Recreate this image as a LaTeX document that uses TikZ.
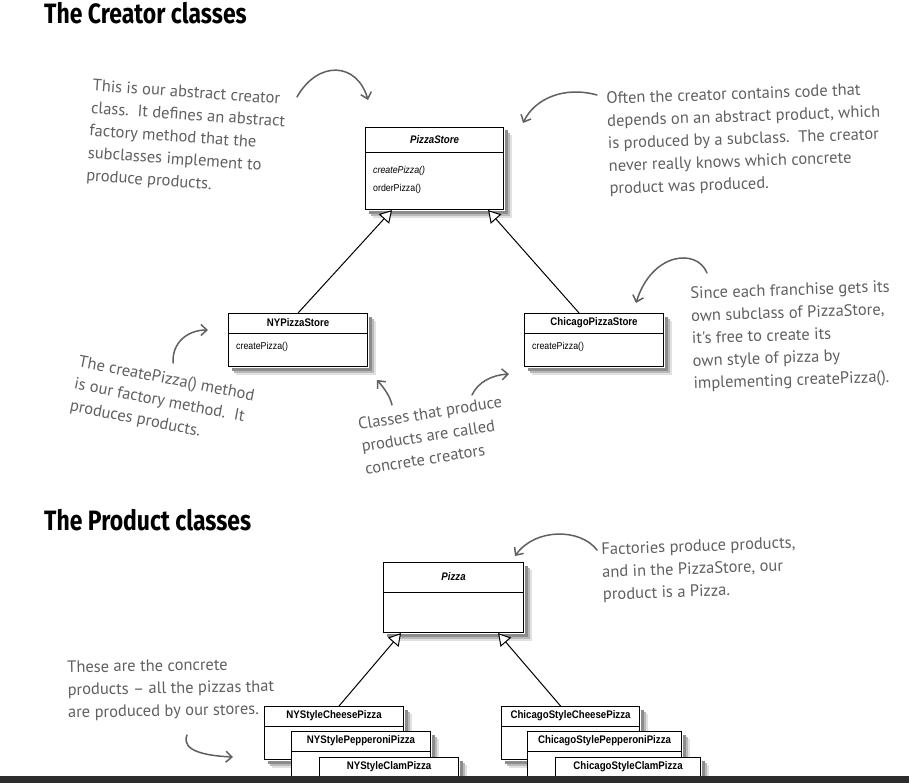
\documentclass[tikz,border=0pt]{standalone}
\usepackage{fontspec}
\setmainfont{Liberation Sans}
\newfontfamily\umlfont[FakeStretch=0.88]{Liberation Sans}
\newfontfamily\handfont{PT Sans}
\newfontfamily\headfont[FakeStretch=0.82]{Fira Sans}
\usetikzlibrary{arrows.meta}
\definecolor{notegray}{RGB}{96,96,96}
\definecolor{bargray}{RGB}{44,44,44}
\definecolor{shadowA}{RGB}{225,225,225}
\definecolor{shadowB}{RGB}{185,185,185}
\definecolor{shadowC}{RGB}{140,140,140}
\newcommand\shadowL[3]{%
  \fill[#2] ([xshift=0.6pt,yshift={-1*#3}]#1.north east) rectangle ([xshift=#3,yshift={-1*#3}]#1.south east);
  \fill[#2] ([xshift=#3,yshift=-0.6pt]#1.south west) rectangle ([xshift=#3,yshift={-1*#3}]#1.south east);
}
\newcommand\mkclass[7]{%
  \node[umlbox, minimum width=#4pt, minimum height=#5pt] (#1) at (#2,#3) {};
  \shadowL{#1}{shadowA}{8pt}
  \shadowL{#1}{shadowB}{6pt}
  \shadowL{#1}{shadowC}{3.5pt}
  \draw[headline] ([yshift={-1*#6}]#1.north west) -- ([yshift={-1*#6}]#1.north east);
  \node[umltitle] (#1-t) at ([yshift={-0.5*#6}]#1.north) {#7};
}
\begin{document}
\begin{tikzpicture}[x=1pt,y=-1pt,
  umlbox/.style={draw=black, line width=1.1pt, fill=white, anchor=north west, inner sep=0pt},
  headline/.style={draw=black, line width=0.8pt},
  umltitle/.style={font=\umlfont\fontsize{11}{13}\selectfont\bfseries, inner sep=0pt},
  method/.style={font=\umlfont\fontsize{10}{12}\selectfont, inner sep=0pt, anchor=west},
  note/.style={font=\handfont\fontsize{16.5}{22.5}\selectfont, text=notegray, align=left, anchor=north west, inner sep=0pt},
  title/.style={font=\headfont\fontsize{28}{30}\selectfont\bfseries, anchor=north west, inner sep=0pt},
  inherit/.style={draw=black, line width=1pt, -{Triangle[open, length=12pt, width=14pt, fill=white]}},
  pointer/.style={draw=notegray, line width=1.5pt, line cap=round, -{Straight Barb[length=6pt, width=11pt]}}
]
\useasboundingbox (0,0) rectangle (909,783);
\fill[white] (0,0) rectangle (909,783);

% titles
\node[title] (t1) at (44,2) {The Creator classes};
\node[title] (t2) at (44,509) {The Product classes};

% ---------- creator classes ----------
\mkclass{ps}{365}{127}{138}{82}{25pt}{\itshape PizzaStore}
\node[method] (ps-m1) at (373,171) {\itshape createPizza()};
\node[method] (ps-m2) at (373,189) {orderPizza()};

\mkclass{ny}{228}{313}{139}{53}{20pt}{NYPizzaStore}
\node[method] (ny-m1) at (236,347) {createPizza()};

\mkclass{chi}{524}{313}{139}{53}{20pt}{ChicagoPizzaStore}
\node[method] (chi-m1) at (532,347) {createPizza()};

\draw[inherit] (ny.north) -- ([xshift=27pt]ps.south west);
\draw[inherit] ([xshift=-15pt]chi.north) -- ([xshift=-16pt]ps.south east);

% ---------- product classes ----------
\mkclass{pz}{383}{562}{140}{70}{30pt}{\itshape Pizza}

\mkclass{nyc}{264}{706}{139}{53}{20pt}{NYStyleCheesePizza}
\mkclass{nyp}{291}{731}{139}{60}{20pt}{NYStylePepperoniPizza}
\mkclass{nycl}{319}{757}{139}{50}{20pt}{NYStyleClamPizza}

\mkclass{chc}{501}{706}{138}{53}{20pt}{ChicagoStyleCheesePizza}
\mkclass{chp}{527}{731}{154}{60}{20pt}{ChicagoStylePepperoniPizza}
\mkclass{chcl}{555}{757}{145}{50}{20pt}{ChicagoStyleClamPizza}

\draw[inherit] ([xshift=5pt]nyc.north) -- ([xshift=18pt]pz.south west);
\draw[inherit] ([xshift=-10pt]chc.north) -- ([xshift=-26pt]pz.south east);

% ---------- notes ----------
\node[note, rotate=-4] (n1) at (93,79) {This is our abstract creator\\class.\ \ It defines an abstract\\factory method that the\\subclasses implement to\\produce products.};
\node[note, rotate=2] (n2) at (606,92) {Often the creator contains code that\\depends on an abstract product, which\\is produced by a subclass.\ \ The creator\\never really knows which concrete\\product was produced.};
\node[note, rotate=2] (n3) at (690,287) {Since each franchise gets its\\own subclass of PizzaStore,\\it's free to create its\\own style of pizza by\\implementing createPizza().};
\node[note, rotate=-11] (n4) at (80,355) {The createPizza() method\\is our factory method.\ \ It\\produces products.};
\node[note, rotate=9] (n5) at (357,418) {Classes that produce\\products are called\\concrete creators};
\node[note, rotate=2] (n6) at (601,543) {Factories produce products,\\and in the PizzaStore, our\\product is a Pizza.};
\node[note, rotate=1] (n7) at (67,661) {These are the concrete\\products – all the pizzas that\\are produced by our stores.};

% ---------- pointer arrows ----------
\coordinate (a1s) at (297,97);  \coordinate (a1e) at (368,100);
\coordinate (a2s) at (597,95);  \coordinate (a2e) at (523,123);
\coordinate (a3s) at (707,273); \coordinate (a3e) at (636,303);
\coordinate (a4s) at (173,363); \coordinate (a4e) at (208,330);
\coordinate (a5s) at (392,405); \coordinate (a5e) at (377,380);
\coordinate (a6s) at (472,395); \coordinate (a6e) at (509,374);
\coordinate (a7s) at (597,550); \coordinate (a7e) at (515,556);
\coordinate (a8s) at (187,735); \coordinate (a8e) at (233,757);

\draw[pointer] (a1s) .. controls (318,60) and (357,62) .. (a1e);
\draw[pointer] (a2s) .. controls (565,86) and (535,98) .. (a2e);
\draw[pointer] (a3s) .. controls (697,248) and (652,252) .. (a3e);
\draw[pointer] (a4s) .. controls (172,342) and (188,330) .. (a4e);
\draw[pointer] (a5s) .. controls (390,396) and (384,388) .. (a5e);
\draw[pointer] (a6s) .. controls (478,382) and (492,375) .. (a6e);
\draw[pointer] (a7s) .. controls (580,528) and (535,528) .. (a7e);
\draw[pointer] (a8s) .. controls (180,752) and (210,756) .. (a8e);

% bottom bar
\fill[bargray] (0,776) rectangle (909,783);
\end{tikzpicture}
\end{document}
